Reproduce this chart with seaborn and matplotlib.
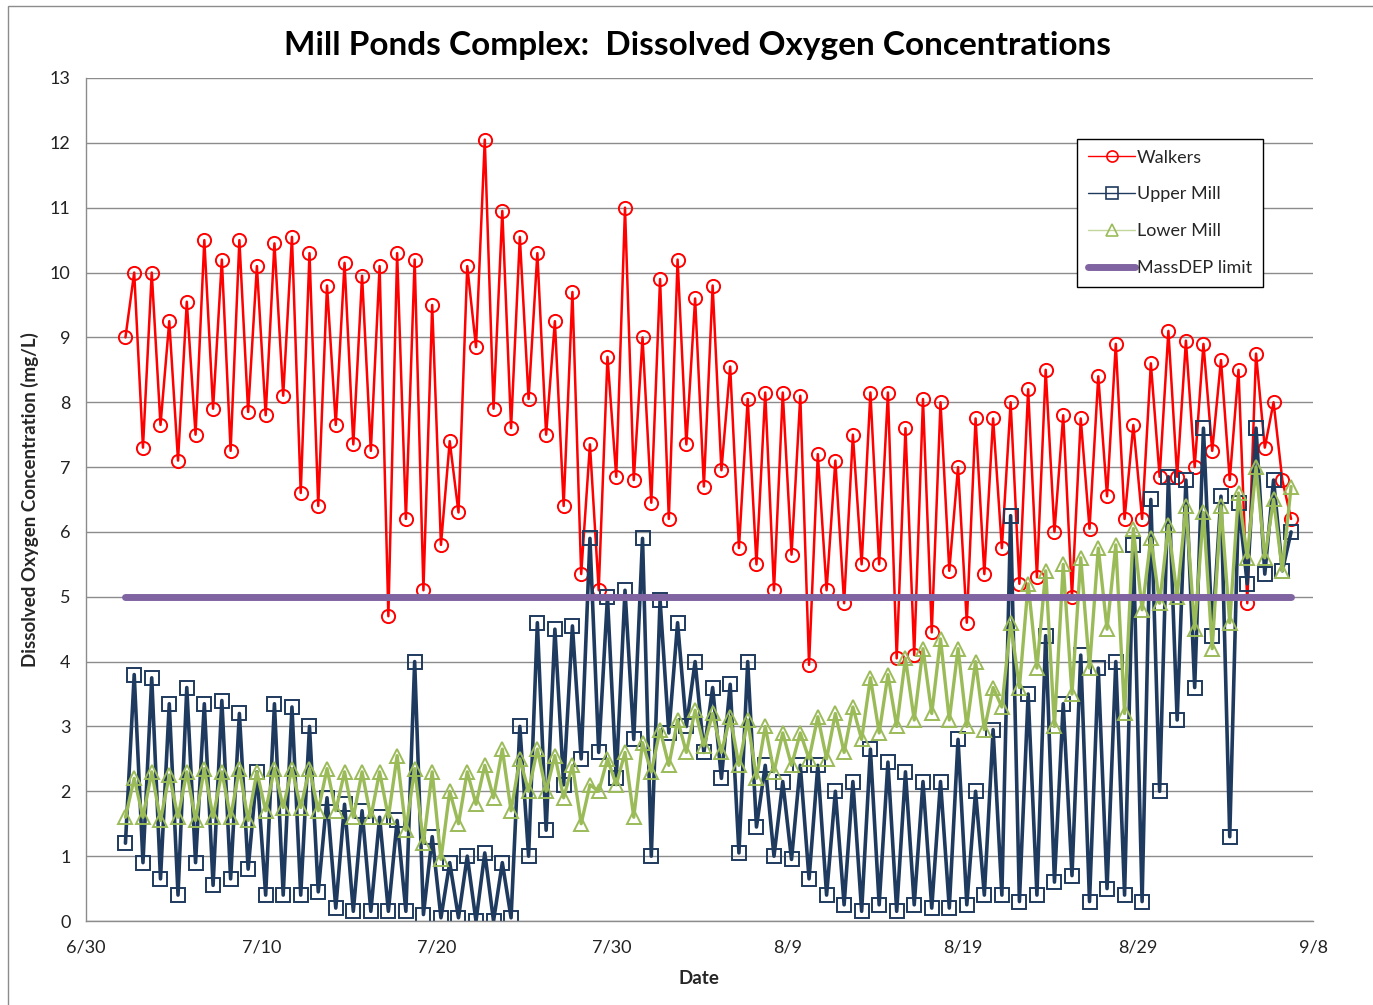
import numpy as np
import pandas as pd
import matplotlib
matplotlib.use("Agg")
import matplotlib.pyplot as plt
import seaborn as sns
from matplotlib.lines import Line2D
from matplotlib.patches import Rectangle

# Dissolved oxygen (mg/L), one early-morning low (06:00) and one evening high (18:00) per day,
# starting 7/2 and ending 9/6
first_day = "2013-07-02"

walkers_am = [9.0, 7.3, 7.65, 7.1, 7.5, 7.9, 7.25, 7.85, 7.8, 8.1,
              6.6, 6.4, 7.65, 7.35, 7.25, 4.7, 6.2, 5.1, 5.8, 6.3,
              8.85, 7.9, 7.6, 8.05, 7.5, 6.4, 5.35, 5.1, 6.85, 6.8,
              6.45, 6.2, 7.35, 6.7, 6.95, 5.75, 5.5, 5.1, 5.65, 3.95,
              5.1, 4.9, 5.5, 5.5, 4.05, 4.1, 4.45, 5.4, 4.6, 5.35,
              5.75, 5.2, 5.3, 6.0, 5.0, 6.05, 6.55, 6.2, 6.2, 6.85,
              6.85, 7.0, 7.25, 6.8, 4.9, 7.3, 6.8]
walkers_pm = [10.0, 10.0, 9.25, 9.55, 10.5, 10.2, 10.5, 10.1, 10.45, 10.55,
              10.3, 9.8, 10.15, 9.95, 10.1, 10.3, 10.2, 9.5, 7.4, 10.1,
              12.05, 10.95, 10.55, 10.3, 9.25, 9.7, 7.35, 8.7, 11.0, 9.0,
              9.9, 10.2, 9.6, 9.8, 8.55, 8.05, 8.15, 8.15, 8.1, 7.2,
              7.1, 7.5, 8.15, 8.15, 7.6, 8.05, 8.0, 7.0, 7.75, 7.75,
              8.0, 8.2, 8.5, 7.8, 7.75, 8.4, 8.9, 7.65, 8.6, 9.1,
              8.95, 8.9, 8.65, 8.5, 8.75, 8.0, 6.2]

upper_am = [1.2, 0.9, 0.65, 0.4, 0.9, 0.55, 0.65, 0.8, 0.4, 0.4,
            0.4, 0.45, 0.2, 0.15, 0.15, 0.15, 0.15, 0.1, 0.05, 0.05,
            0.0, 0.0, 0.05, 1.0, 1.4, 2.1, 2.5, 2.6, 2.2, 2.8,
            1.0, 2.9, 3.0, 2.6, 2.2, 1.05, 1.45, 1.0, 0.95, 0.65,
            0.4, 0.25, 0.15, 0.25, 0.15, 0.25, 0.2, 0.2, 0.25, 0.4,
            0.4, 0.3, 0.4, 0.6, 0.7, 0.3, 0.5, 0.4, 0.3, 2.0,
            3.1, 3.6, 4.4, 1.3, 5.2, 5.35, 5.4]
upper_pm = [3.8, 3.75, 3.35, 3.6, 3.35, 3.4, 3.2, 2.3, 3.35, 3.3,
            3.0, 1.9, 1.8, 1.7, 1.6, 1.55, 4.0, 1.3, 0.9, 1.0,
            1.05, 0.9, 3.0, 4.6, 4.5, 4.55, 5.9, 5.0, 5.1, 5.9,
            4.95, 4.6, 4.0, 3.6, 3.65, 4.0, 2.4, 2.15, 2.4, 2.4,
            2.0, 2.15, 2.65, 2.45, 2.3, 2.15, 2.15, 2.8, 2.0, 2.95,
            6.25, 3.5, 4.4, 3.35, 4.1, 3.9, 4.0, 5.8, 6.5, 6.85,
            6.8, 7.6, 6.55, 6.45, 7.6, 6.8, 6.0]

lower_am = [1.6, 1.6, 1.55, 1.6, 1.55, 1.6, 1.6, 1.55, 1.7, 1.75,
            1.75, 1.7, 1.7, 1.6, 1.6, 1.6, 1.4, 1.2, 0.95, 1.5,
            1.8, 1.9, 1.7, 2.0, 2.0, 1.9, 1.5, 2.0, 2.1, 1.6,
            2.3, 2.4, 2.6, 2.7, 2.6, 2.4, 2.2, 2.3, 2.4, 2.5,
            2.5, 2.6, 2.8, 2.9, 3.0, 3.1, 3.2, 3.1, 3.0, 2.95,
            3.3, 3.6, 3.9, 3.0, 3.5, 3.9, 4.5, 3.2, 4.8, 4.9,
            5.0, 4.5, 4.2, 4.6, 5.6, 5.6, 5.4]
lower_pm = [2.2, 2.3, 2.25, 2.3, 2.35, 2.3, 2.35, 2.3, 2.35, 2.35,
            2.35, 2.35, 2.3, 2.3, 2.3, 2.55, 2.35, 2.3, 2.0, 2.3,
            2.4, 2.65, 2.5, 2.65, 2.55, 2.4, 2.1, 2.5, 2.6, 2.75,
            2.95, 3.1, 3.25, 3.2, 3.15, 3.1, 3.0, 2.9, 2.9, 3.15,
            3.2, 3.3, 3.75, 3.8, 4.05, 4.2, 4.35, 4.2, 4.0, 3.6,
            4.6, 5.2, 5.4, 5.5, 5.6, 5.75, 5.8, 6.05, 5.9, 6.1,
            6.4, 6.3, 6.4, 6.6, 7.0, 6.5, 6.7]

limit_times = ["2013-07-02 06:00", "2013-09-06 18:00"]
limit_values = [5.0, 5.0]

series_names = ["Walkers", "Upper Mill", "Lower Mill", "MassDEP limit"]
x_tick_labels = ["6/30", "7/10", "7/20", "7/30", "8/9", "8/19", "8/29", "9/8"]
y_ticks = list(range(0, 14))


def diel_frame(am, pm):
    days = pd.date_range(first_day, periods=len(am), freq="D")
    times, values = [], []
    for day, lo, hi in zip(days, am, pm):
        times += [day + pd.Timedelta(hours=6), day + pd.Timedelta(hours=18)]
        values += [lo, hi]
    return pd.DataFrame({"time": times, "do": values})


walkers = diel_frame(walkers_am, walkers_pm)
upper = diel_frame(upper_am, upper_pm)
lower = diel_frame(lower_am, lower_pm)
limit = pd.DataFrame({"time": pd.to_datetime(limit_times), "do": limit_values})

sns.set_style("white")
plt.rcParams["font.family"] = ["Lato", "DejaVu Sans"]

RED = "#FF0000"
NAVY = "#1F3A5F"
GREEN = "#9BBB59"
PURPLE = "#8064A2"
GRID = "#8C8C8C"

fig = plt.figure(figsize=(13.73, 10.05), dpi=100)
ax = fig.add_axes([86 / 1373, 1 - 921 / 1005, 1227 / 1373, 843 / 1005])

styles = [
    (walkers, RED, "o", 9.5, 1.8),
    (upper, NAVY, "s", 10.5, 2.6),
    (lower, GREEN, "^", 10.5, 2.4),
]
for df, col, mk, ms, lw in styles:
    sns.lineplot(data=df, x="time", y="do", ax=ax, color=col, linewidth=lw,
                 marker=mk, markersize=ms, markerfacecolor="none",
                 markeredgecolor=col, markeredgewidth=1.4,
                 sort=False, estimator=None, legend=False)

sns.lineplot(data=limit, x="time", y="do", ax=ax, color=PURPLE, linewidth=5,
             solid_capstyle="round", sort=False, estimator=None, legend=False)

# Axes, ticks and grid
ax.set_xlim(pd.Timestamp("2013-06-30"), pd.Timestamp("2013-09-08"))
ax.set_xticks(pd.date_range("2013-06-30", periods=len(x_tick_labels), freq="10D"))
ax.set_xticklabels(x_tick_labels)
ax.set_ylim(0, 13)
ax.set_yticks(y_ticks)
ax.set_yticklabels([str(v) for v in y_ticks])
ax.yaxis.grid(True, color=GRID, linewidth=1.0)
ax.xaxis.grid(False)
ax.set_axisbelow(True)
for side in ("top", "right"):
    ax.spines[side].set_visible(False)
for side in ("left", "bottom"):
    ax.spines[side].set_color(GRID)
    ax.spines[side].set_linewidth(1.0)
ax.tick_params(axis="both", which="major", direction="out", length=5,
               width=1, color=GRID, labelsize=13, labelcolor="#222222")
ax.tick_params(axis="y", pad=6)
ax.tick_params(axis="x", pad=8)
ax.set_xlabel("")
ax.set_ylabel("")

fig.text(697 / 1373, 1 - 45 / 1005, "Mill Ponds Complex:  Dissolved Oxygen Concentrations",
         ha="center", va="center", fontsize=24, fontweight="bold", color="black")
fig.text(30 / 1373, 1 - 500 / 1005, "Dissolved Oxygen Concentration (mg/L)",
         ha="center", va="center", rotation=90, fontsize=13.5, fontweight="bold")
fig.text(699 / 1373, 1 - 978 / 1005, "Date", ha="center", va="center",
         fontsize=13.5, fontweight="bold")

# Legend
handles = [
    Line2D([], [], color=RED, lw=1.0, marker="o", ms=8, mfc="none", mec=RED, mew=1.2),
    Line2D([], [], color=NAVY, lw=1.0, marker="s", ms=9, mfc="none", mec=NAVY, mew=1.2),
    Line2D([], [], color="#C3D69B", lw=1.0, marker="^", ms=9, mfc="none", mec=GREEN, mew=1.2),
    Line2D([], [], color=PURPLE, lw=5, solid_capstyle="round"),
]
leg = ax.legend(handles, series_names, loc="upper left", bbox_to_anchor=(0.808, 0.928),
                frameon=True, fancybox=False, framealpha=1, edgecolor="black",
                fontsize=13, handlelength=2.6, handletextpad=0.1, labelspacing=1.15,
                borderpad=0.6, borderaxespad=0)
leg.get_frame().set_linewidth(1.0)

# Chart-area border
fig.add_artist(Rectangle((8 / 1373, -0.01), 1.0, 1 - 6 / 1005 + 0.01,
                         transform=fig.transFigure, fill=False,
                         edgecolor=GRID, linewidth=1.0))

fig.savefig("out.png", dpi=100)
